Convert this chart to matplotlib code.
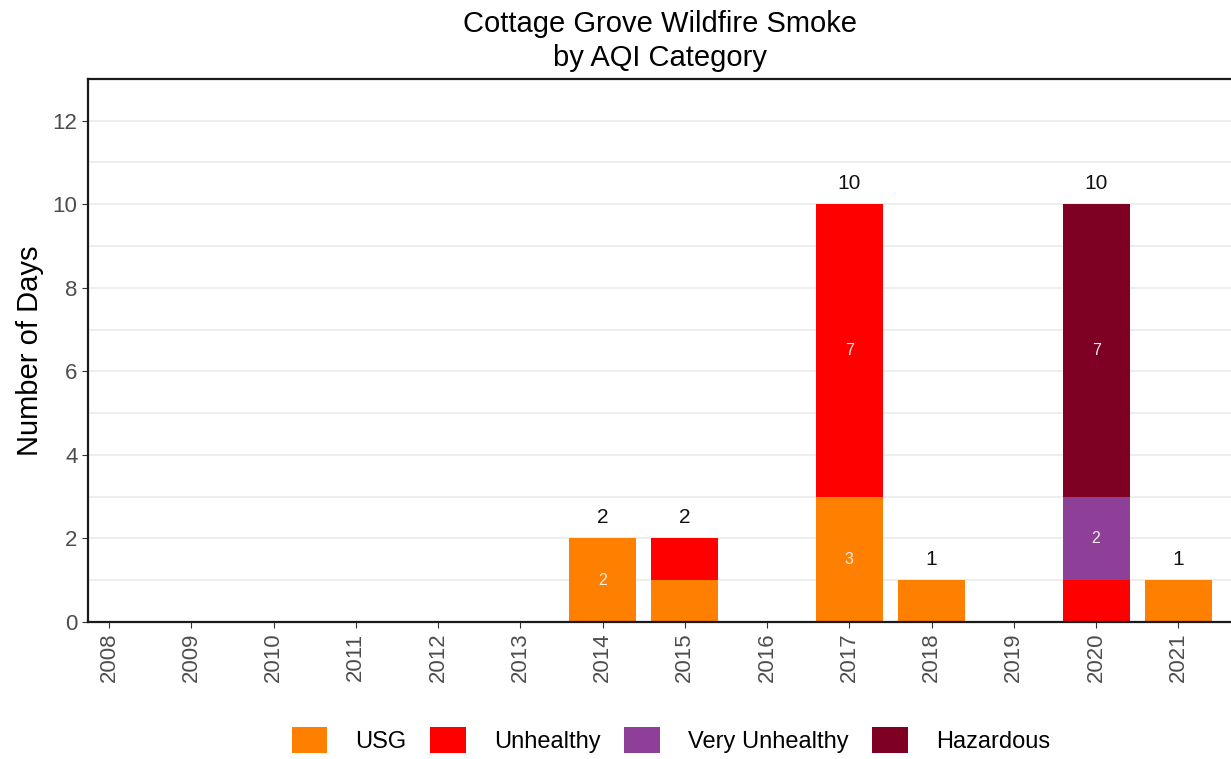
import numpy as np
import matplotlib.pyplot as plt
from matplotlib.patches import Patch

plt.rcParams['font.family'] = ['Liberation Sans', 'DejaVu Sans']

# Data
years = np.arange(2008, 2022)
usg = [0, 0, 0, 0, 0, 0, 2, 1, 0, 3, 1, 0, 0, 1]
unhealthy = [0, 0, 0, 0, 0, 0, 0, 1, 0, 7, 0, 0, 1, 0]
very_unhealthy = [0, 0, 0, 0, 0, 0, 0, 0, 0, 0, 0, 0, 2, 0]
hazardous = [0, 0, 0, 0, 0, 0, 0, 0, 0, 0, 0, 0, 7, 0]

categories = ['USG', 'Unhealthy', 'Very Unhealthy', 'Hazardous']
colors = ['#FF7F00', '#FF0000', '#8E3F98', '#7E0023']
series = [usg, unhealthy, very_unhealthy, hazardous]

fig = plt.figure(figsize=(12.31, 7.59), dpi=100)
ax = fig.add_axes([0.0715, 0.1805, 0.9285, 0.7155])

bottom = np.zeros(len(years))
for vals, col in zip(series, colors):
    vals = np.array(vals, dtype=float)
    ax.bar(years, vals, bottom=bottom, width=0.815, color=col, zorder=2)
    # segment labels (only for counts > 1)
    for x, v, b in zip(years, vals, bottom):
        if v > 1:
            ax.text(x, b + v / 2, f'{int(v)}', ha='center', va='center',
                    color='#EDEDED', fontsize=11.5, zorder=3)
    bottom += vals

# totals above bars
for x, t in zip(years, bottom):
    if t > 0:
        ax.text(x, t + 0.5, f'{int(t)}', ha='center', va='center',
                color='#111111', fontsize=15)

ax.set_xlim(2008 - 0.255, 2021 + 0.64)
ax.set_ylim(0, 13)
ax.set_xticks(years)
ax.set_xticklabels([str(y) for y in years], rotation=90)
ax.set_yticks(np.arange(0, 13, 2))
ax.set_yticks(np.arange(1, 13, 2), minor=True)
ax.grid(axis='y', which='both', color='#EBEBEB', linewidth=1.2, zorder=0)
ax.set_axisbelow(True)

for s in ['left', 'top', 'bottom']:
    ax.spines[s].set_color('#1a1a1a')
    ax.spines[s].set_linewidth(1.6)
ax.spines['right'].set_visible(False)

ax.tick_params(axis='both', which='major', labelsize=16, labelcolor='#4D4D4D',
               color='#333333', length=4)
ax.tick_params(axis='y', which='minor', length=0)

ax.set_ylabel('Number of Days', fontsize=21, labelpad=6)
ax.set_title('Cottage Grove Wildfire Smoke\nby AQI Category', fontsize=21,
             linespacing=1.3, pad=9)

handles = [Patch(facecolor=c, label=l) for c, l in zip(colors, categories)]
fig.legend(handles=handles, loc='center', ncol=4, frameon=False,
           fontsize=17, bbox_to_anchor=(0.545, 0.025), handlelength=1.5,
           handleheight=1.3, columnspacing=1.0, handletextpad=1.2)

fig.savefig('out.png', dpi=100)
